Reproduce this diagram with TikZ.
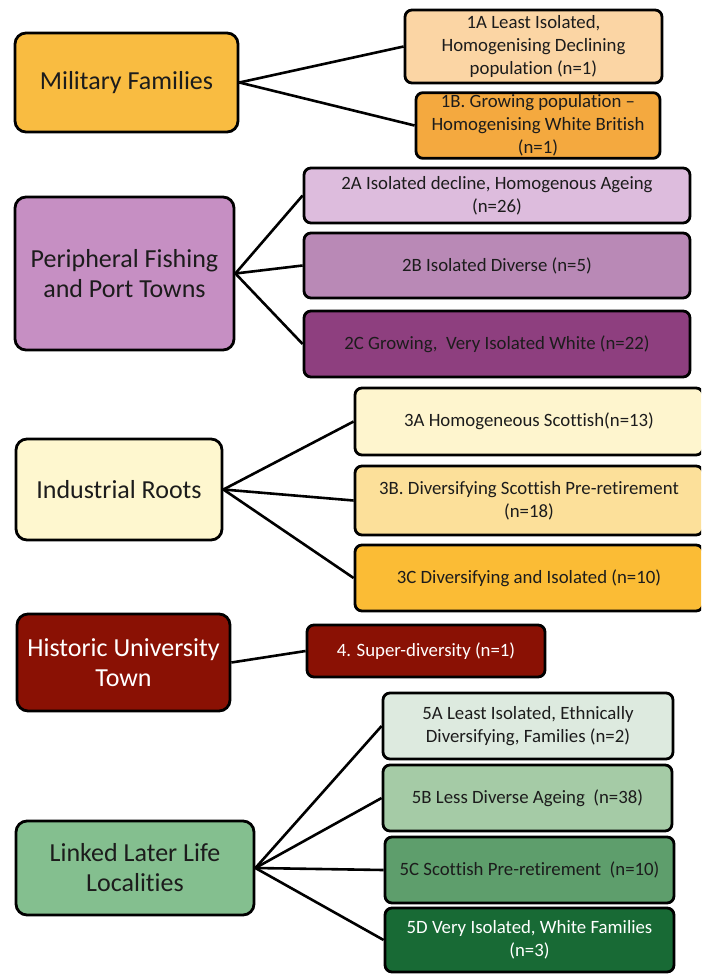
\documentclass[tikz,border=0pt]{standalone}
\usepackage{fontspec}
\setmainfont{Carlito}[Ligatures={TeX,NoCommon}]
\definecolor{txt}{HTML}{1C1C1C}
\definecolor{cMil}{HTML}{F9BC41}
\definecolor{c1A}{HTML}{FBD5A4}
\definecolor{c1B}{HTML}{F4A93F}
\definecolor{cPer}{HTML}{C68FC3}
\definecolor{c2A}{HTML}{DDBCDD}
\definecolor{c2B}{HTML}{B989B6}
\definecolor{c2C}{HTML}{8E3F7F}
\definecolor{cInd}{HTML}{FEF7CF}
\definecolor{c3A}{HTML}{FEF5CE}
\definecolor{c3B}{HTML}{FCE09A}
\definecolor{c3C}{HTML}{FBBC35}
\definecolor{cHis}{HTML}{8A1104}
\definecolor{cLin}{HTML}{84BF8F}
\definecolor{c5A}{HTML}{DDEADF}
\definecolor{c5B}{HTML}{A5CBA6}
\definecolor{c5C}{HTML}{5E9E6C}
\definecolor{c5D}{HTML}{186A35}
\tikzset{
  box/.style={draw=black, line width=2.8pt, align=center, inner sep=2pt, text=txt},
  parentbox/.style={box, rounded corners=11pt, font=\fontsize{26}{30}\selectfont},
  childbox/.style={box, rounded corners=7pt, font=\fontsize{18.8}{23}\selectfont},
  link/.style={draw=black, line width=2.6pt},
  sz/.style 2 args={minimum width=#1pt, minimum height=#2pt}
}
\begin{document}
\begin{tikzpicture}[x=1pt,y=-1pt]
\useasboundingbox (0,0) rectangle (701,976);
\clip (0,0) rectangle (701,976);
\fill[white] (0,0) rectangle (701,976);
% group 1
\node[parentbox, fill=cMil, sz={223}{99}] (mil) at (126.5,82.5) {Military Families};
\node[childbox, fill=c1A, sz={257}{73}] (a1) at (533.5,46.5) {1A Least Isolated,\\Homogenising Declining\\population (n=1)};
\node[childbox, fill=c1B, sz={244}{65}] (b1) at (538,125.5) {1B. Growing population --\\Homogenising White British\\(n=1)};
% group 2
\node[parentbox, fill=cPer, sz={219}{153}] (per) at (124.5,273.5) {Peripheral Fishing\\and Port Towns};
\node[childbox, fill=c2A, sz={386}{55}] (a2) at (497,195.5) {2A Isolated decline, Homogenous Ageing\\(n=26)};
\node[childbox, fill=c2B, sz={386}{65}] (b2) at (497,265.5) {2B Isolated Diverse (n=5)};
\node[childbox, fill=c2C, sz={386}{66}] (c2) at (497,344) {2C Growing,\ \ Very Isolated White (n=22)};
% group 3
\node[parentbox, fill=cInd, sz={206}{101}] (ind) at (119,489.5) {Industrial Roots};
\node[childbox, fill=c3A, sz={348}{67}] (a3) at (529,421.5) {3A Homogeneous Scottish(n=13)};
\node[childbox, fill=c3B, sz={348}{69}] (b3) at (529,500.5) {3B. Diversifying Scottish Pre-retirement\\(n=18)};
\node[childbox, fill=c3C, sz={348}{66}] (c3) at (529,578) {3C Diversifying and Isolated (n=10)};
% group 4
\node[parentbox, fill=cHis, text=white, sz={213}{97}] (his) at (123.5,662.5) {Historic University\\Town};
\node[childbox, fill=cHis, text=white, sz={238}{52}] (a4) at (426,651) {4. Super-diversity (n=1)};
% group 5
\node[parentbox, fill=cLin, sz={238}{94}] (lin) at (135,868) {Linked Later Life\\Localities};
\node[childbox, fill=c5A, sz={290}{66}] (a5) at (528,726) {5A Least Isolated, Ethnically\\Diversifying, Families (n=2)};
\node[childbox, fill=c5B, sz={289}{66}] (b5) at (527.5,798) {5B Less Diverse Ageing\ \ (n=38)};
\node[childbox, fill=c5C, sz={289}{66}] (c5) at (529.5,870) {5C Scottish Pre-retirement\ \ (n=10)};
\node[childbox, fill=c5D, text=white, sz={289}{64}] (d5) at (529.5,940) {5D Very Isolated, White Families\\(n=3)};
% connectors
\draw[link] (mil.east) -- (a1.west);
\draw[link] (mil.east) -- (b1.west);
\draw[link] (per.east) -- (a2.west);
\draw[link] (per.east) -- (b2.west);
\draw[link] (per.east) -- (c2.west);
\draw[link] (ind.east) -- (a3.west);
\draw[link] (ind.east) -- (b3.west);
\draw[link] (ind.east) -- (c3.west);
\draw[link] (his.east) -- (a4.west);
\draw[link] (lin.east) -- (a5.west);
\draw[link] (lin.east) -- (b5.west);
\draw[link] (lin.east) -- (c5.west);
\draw[link] (lin.east) -- (d5.west);
\end{tikzpicture}
\end{document}
